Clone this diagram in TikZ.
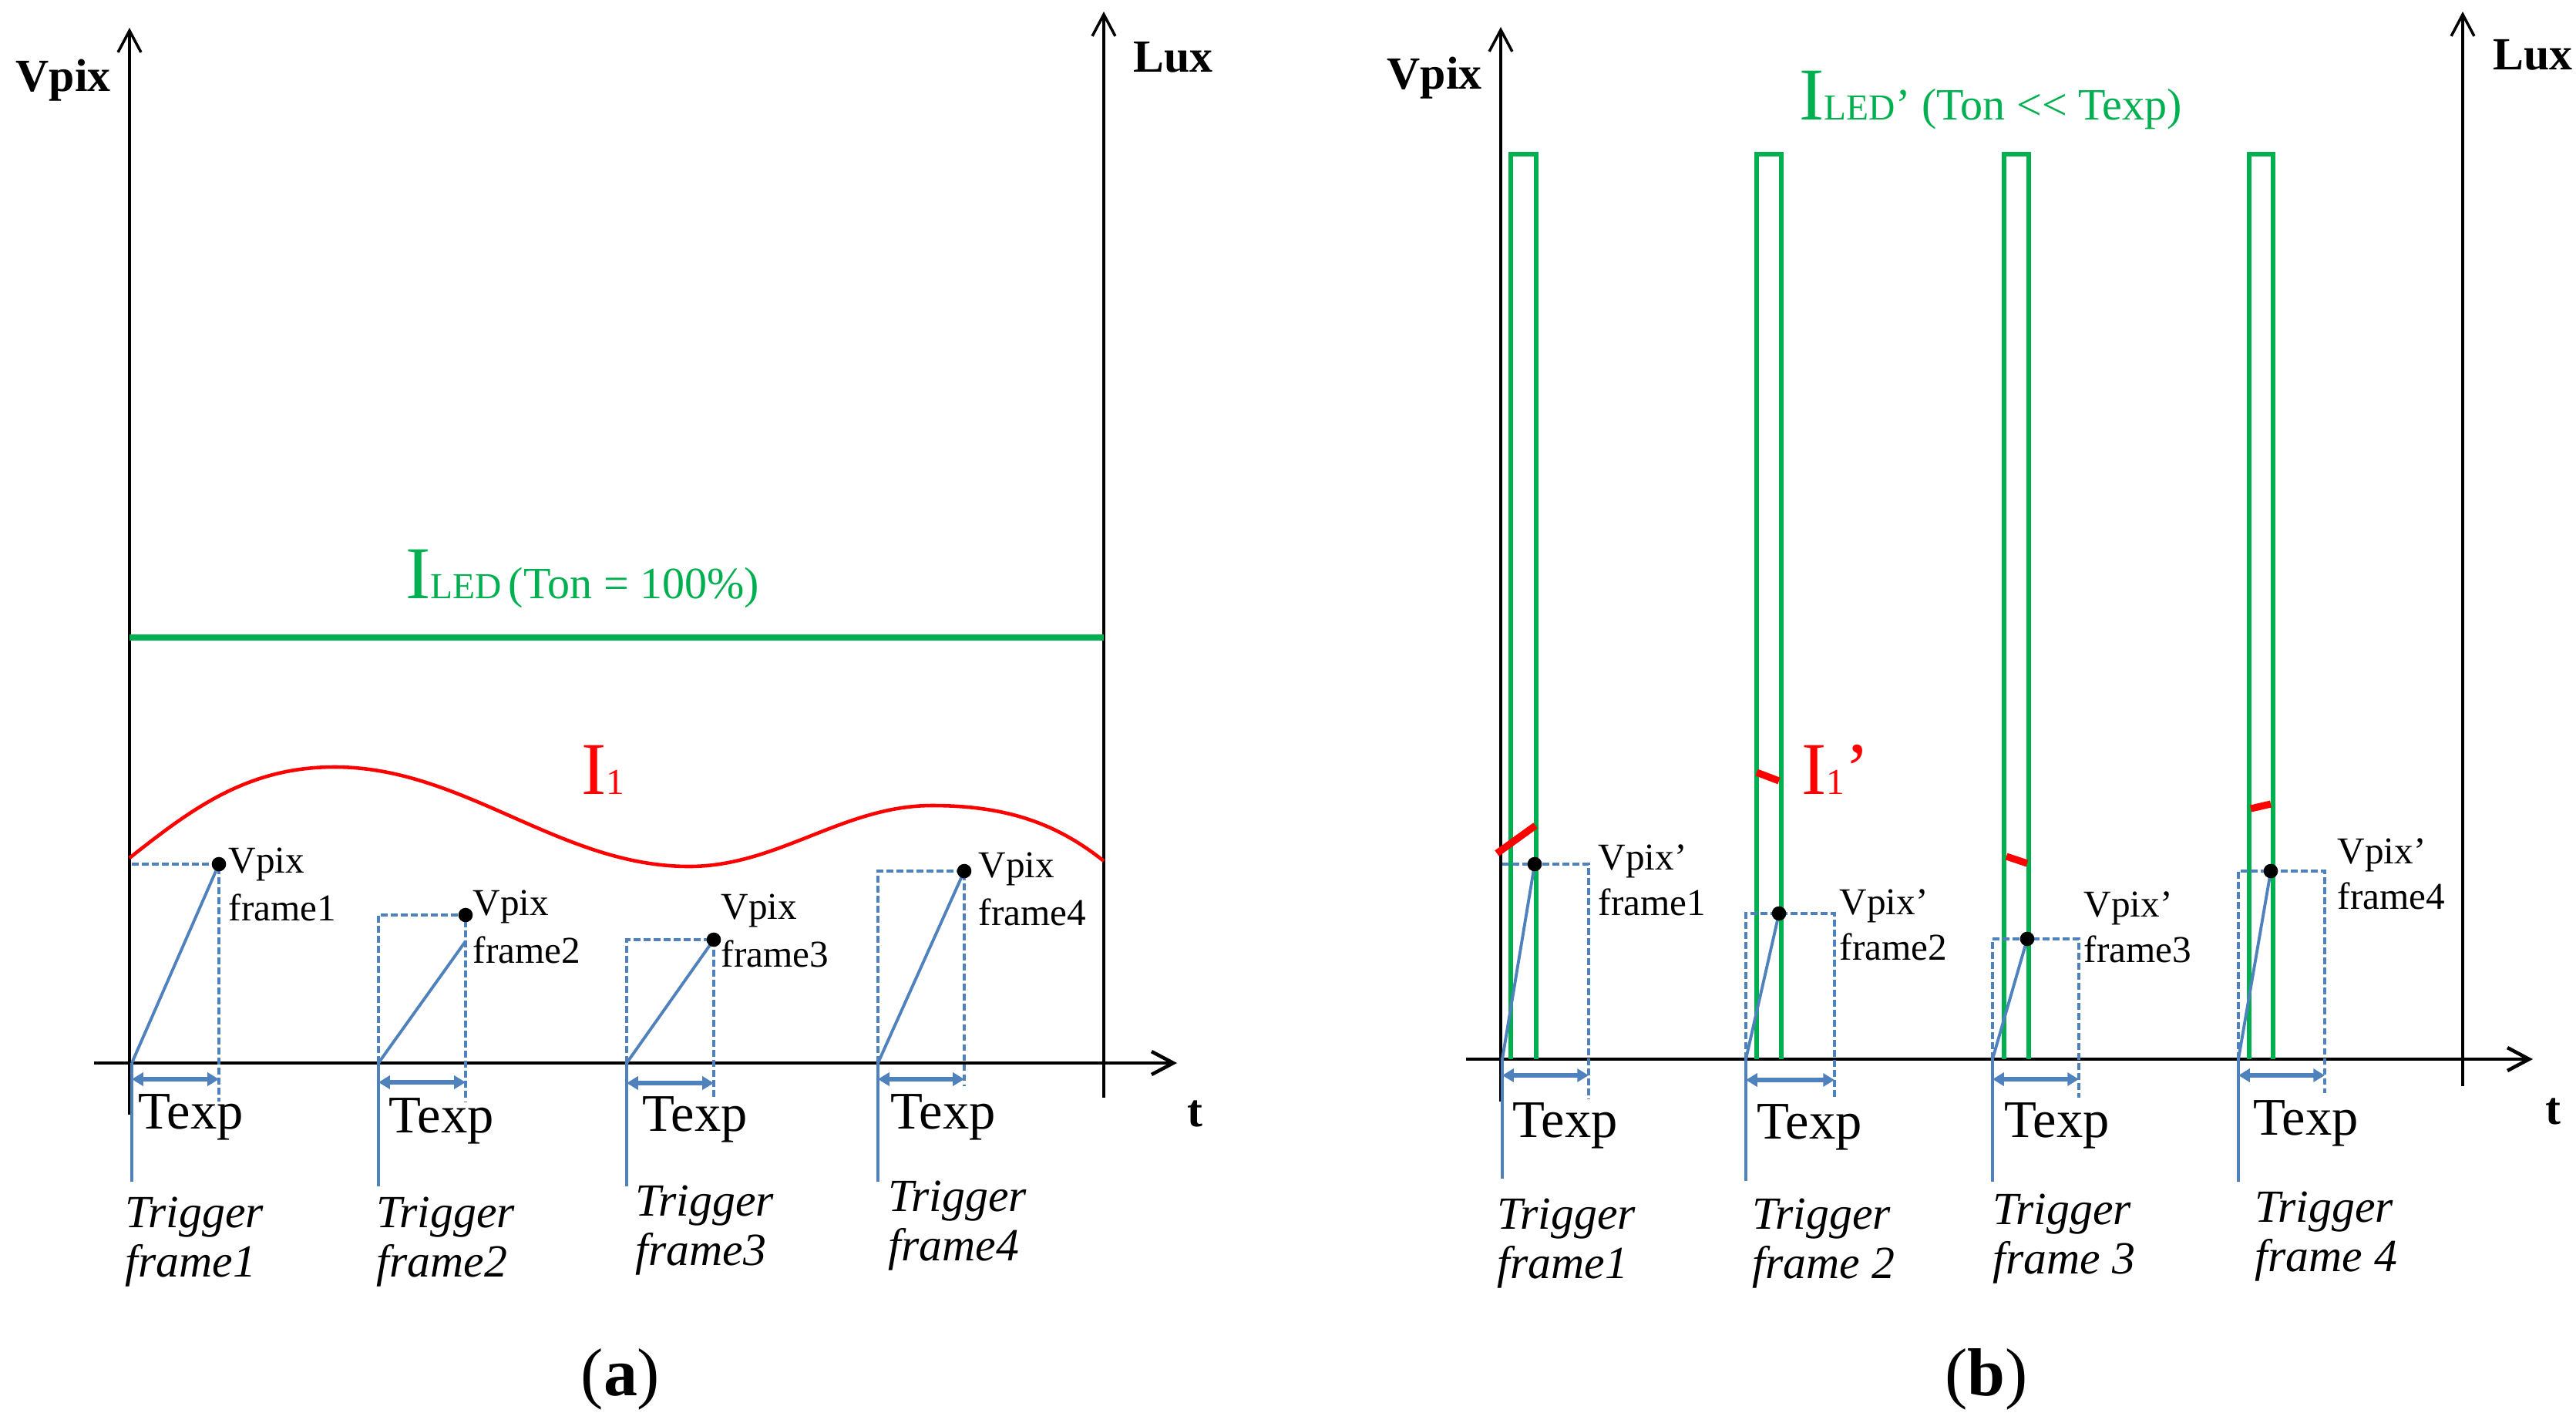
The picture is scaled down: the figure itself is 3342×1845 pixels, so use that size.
\documentclass[tikz,border=0pt]{standalone}
\usepackage{fontspec}
\setmainfont{Liberation Serif}
\usetikzlibrary{arrows.meta}
\definecolor{ledgreen}{RGB}{0,176,80}
\definecolor{pixblue}{RGB}{79,129,189}
\tikzset{
  axis/.style={black, line width=1pt, -{Straight Barb[length=8pt, width=8.5pt]}},
  timeaxis/.style={black, line width=1.3pt, -{Straight Barb[length=8pt, width=8.5pt]}},
  ramp/.style={pixblue, line width=1.1pt},
  guide/.style={pixblue, line width=1pt, dash pattern=on 2.5pt off 1.2pt},
  texparrow/.style={pixblue, line width=1.6pt, {Triangle[length=4.2pt, width=4.8pt]}-{Triangle[length=4.2pt, width=4.8pt]}},
  pulse/.style={ledgreen, line width=1.7pt},
  redseg/.style={red, line width=2.6pt},
  pixdot/.style={circle, fill=black, inner sep=0pt, minimum size=5.3pt},
  axlabel/.style={anchor=base west, inner sep=0pt, font=\fontsize{17}{20}\selectfont\bfseries},
  texplabel/.style={anchor=base west, inner sep=0pt, font=\fontsize{19.5}{23}\selectfont},
  triglabel/.style={anchor=base west, inner sep=0pt, align=left, font=\fontsize{17}{18.2}\selectfont\itshape},
  pixlabel/.style={anchor=base west, inner sep=0pt, align=left, font=\fontsize{14}{17.4}\selectfont},
  pixlabelb/.style={pixlabel, font=\fontsize{14}{16.5}\selectfont},
  biglabel/.style={anchor=base west, inner sep=0pt},
  panel/.style={anchor=base, inner sep=0pt, font=\fontsize{25}{28}\selectfont},
}
\newcommand{\bigI}{{\fontsize{27.5}{30}\selectfont I}}
\newcommand{\bigquote}{{\fontsize{27.5}{30}\selectfont ’}}
\newcommand{\smallsub}[1]{{\fontsize{13.5}{16}\selectfont #1}}
\newcommand{\midtext}[1]{{\fontsize{16.5}{19}\selectfont #1}}

\begin{document}
\begin{tikzpicture}[x=0.01cm, y=-0.01cm]
  \useasboundingbox (0,0) rectangle (3342,1845);
  % (a)
  \coordinate (aVb) at (168,1446);
  \coordinate (aVt) at (168,36);
  \coordinate (aLb) at (1432,1424);
  \coordinate (aLt) at (1432,15);
  \coordinate (aTl) at (122,1379);
  \coordinate (aTr) at (1527,1379);
  \draw[axis] (aVb) -- (aVt);
  \draw[axis] (aLb) -- (aLt);
  \draw[timeaxis] (aTl) -- (aTr);
  \node[axlabel] (aVpix) at (20,118) {Vpix};
  \node[axlabel] (aLux) at (1470,93) {Lux};
  \node[axlabel] (aTime) at (1540,1461) {t};
  \coordinate (aLedL) at (168,827);
  \coordinate (aLedR) at (1432,827);
  \draw[ledgreen, line width=2pt] (aLedL) -- (aLedR);
  \node[biglabel, ledgreen] (aLed) at (526,776) {\bigI\smallsub{LED} \midtext{(Ton = 100\%)}};
  \draw[red, line width=1.3pt] (168,1113) .. controls (248,1050) and (320,995) .. (434,995)
    .. controls (602,995) and (726,1124) .. (894,1124)
    .. controls (1009,1124) and (1094,1045) .. (1209,1045)
    .. controls (1309,1045) and (1373,1070) .. (1432,1117);
  \node[biglabel, red] (aI) at (754,1030) {\bigI\smallsub{1}};

  \coordinate (aT1) at (171,1379);
  \coordinate (aP1) at (284,1121);
  \coordinate (aD1) at (284,1429);
  \coordinate (aB1) at (171,1533);
  \coordinate (aA1) at (171,1400);
  \draw[guide] (aT1 |- aP1) -| (aD1);
  \draw[ramp] (aT1) -- (aP1);
  \draw[ramp] (aT1) -- (aB1);
  \draw[texparrow] (aA1) -- (aA1 -| aD1);
  \node[pixdot] (aDot1) at (aP1) {};
  \node[pixlabel] (aV1) at (296,1194) {Vpix\\frame1};
  \node[texplabel] (aX1) at (179,1464) {Texp};
  \node[triglabel] (aG1) at (162,1656) {Trigger\\frame1};

  \coordinate (aT2) at (491,1379);
  \coordinate (aP2) at (604,1187);
  \coordinate (aR2) at (604,1221);
  \coordinate (aD2) at (604,1429);
  \coordinate (aB2) at (491,1539);
  \coordinate (aA2) at (491,1404);
  \draw[guide] (aT2) |- (aD2 |- aP2) -- (aD2);
  \draw[ramp] (aT2) -- (aR2);
  \draw[ramp] (aT2) -- (aB2);
  \draw[texparrow] (aA2) -- (aA2 -| aD2);
  \node[pixdot] (aDot2) at (aP2) {};
  \node[pixlabel] (aV2) at (613,1249) {Vpix\\frame2};
  \node[texplabel] (aX2) at (504,1469) {Texp};
  \node[triglabel] (aG2) at (488,1656) {Trigger\\frame2};

  \coordinate (aT3) at (813,1379);
  \coordinate (aP3) at (926,1219);
  \coordinate (aD3) at (926,1427);
  \coordinate (aB3) at (813,1539);
  \coordinate (aA3) at (813,1405);
  \draw[guide] (aT3) |- (aD3 |- aP3) -- (aD3);
  \draw[ramp] (aT3) -- (aP3);
  \draw[ramp] (aT3) -- (aB3);
  \draw[texparrow] (aA3) -- (aA3 -| aD3);
  \node[pixdot] (aDot3) at (aP3) {};
  \node[pixlabel] (aV3) at (935,1254) {Vpix\\frame3};
  \node[texplabel] (aX3) at (833,1467) {Texp};
  \node[triglabel] (aG3) at (824,1641) {Trigger\\frame3};

  \coordinate (aT4) at (1139,1379);
  \coordinate (aP4) at (1251,1130);
  \coordinate (aD4) at (1251,1409);
  \coordinate (aB4) at (1139,1533);
  \coordinate (aA4) at (1139,1400);
  \draw[guide] (aT4) |- (aD4 |- aP4) -- (aD4);
  \draw[ramp] (aT4) -- (aP4);
  \draw[ramp] (aT4) -- (aB4);
  \draw[texparrow] (aA4) -- (aA4 -| aD4);
  \node[pixdot] (aDot4) at (aP4) {};
  \node[pixlabel] (aV4) at (1269,1200) {Vpix\\frame4};
  \node[texplabel] (aX4) at (1155,1464) {Texp};
  \node[triglabel] (aG4) at (1152,1635) {Trigger\\frame4};

  \node[panel] (aCap) at (805,1810) {(\textbf{a})};

  % (b)
  \coordinate (bVb) at (1947,1429);
  \coordinate (bVt) at (1947,35);
  \coordinate (bLb) at (3195,1409);
  \coordinate (bLt) at (3195,15);
  \coordinate (bTl) at (1902,1374);
  \coordinate (bTr) at (3286,1374);
  \draw[axis] (bVb) -- (bVt);
  \draw[axis] (bLb) -- (bLt);
  \draw[timeaxis] (bTl) -- (bTr);
  \node[axlabel] (bVpix) at (1799,115) {Vpix};
  \node[axlabel] (bLux) at (3234,90) {Lux};
  \node[axlabel] (bTime) at (3302,1458) {t};
  \node[biglabel, ledgreen] (bLed) at (2334,155) {\bigI\smallsub{LED}\midtext{’ (Ton {<}{<} Texp)}};
  \draw[pulse] (1960,1374) |- (1993,200) -- (1993,1374);
  \draw[pulse] (2279,1374) |- (2311,200) -- (2311,1374);
  \draw[pulse] (2600,1374) |- (2632,200) -- (2632,1374);
  \draw[pulse] (2918,1374) |- (2949,200) -- (2949,1374);
  \draw[redseg] (1942,1107) -- (1992,1071);
  \draw[redseg] (2279,1002) -- (2308,1013);
  \draw[redseg] (2603,1111) -- (2630,1120);
  \draw[redseg] (2920,1049) -- (2946,1043);
  \node[biglabel, red] (bI) at (2337,1030) {\bigI\smallsub{1}\bigquote};

  \coordinate (bT1) at (1949,1374);
  \coordinate (bP1) at (1991,1121);
  \coordinate (bD1) at (2061,1426);
  \coordinate (bB1) at (1949,1529);
  \coordinate (bA1) at (1949,1395);
  \draw[guide] (bT1 |- bP1) -| (bD1);
  \draw[ramp] (bT1) -- (bP1);
  \draw[ramp] (bT1) -- (bB1);
  \draw[texparrow] (bA1) -- (bA1 -| bD1);
  \node[pixdot] (bDot1) at (bP1) {};
  \node[pixlabelb] (bV1) at (2073,1187) {Vpix’\\frame1};
  \node[texplabel] (bX1) at (1962,1475) {Texp};
  \node[triglabel] (bG1) at (1942,1658) {Trigger\\frame1};

  \coordinate (bT2) at (2265,1374);
  \coordinate (bP2) at (2308,1185);
  \coordinate (bD2) at (2380,1426);
  \coordinate (bB2) at (2265,1532);
  \coordinate (bA2) at (2265,1401);
  \draw[guide] (bT2) |- (bD2 |- bP2) -- (bD2);
  \draw[ramp] (bT2) -- (bP2);
  \draw[ramp] (bT2) -- (bB2);
  \draw[texparrow] (bA2) -- (bA2 -| bD2);
  \node[pixdot] (bDot2) at (bP2) {};
  \node[pixlabelb] (bV2) at (2386,1245) {Vpix’\\frame2};
  \node[texplabel] (bX2) at (2279,1477) {Texp};
  \node[triglabel] (bG2) at (2273,1658) {Trigger\\frame 2};

  \coordinate (bT3) at (2585,1374);
  \coordinate (bP3) at (2630,1218);
  \coordinate (bD3) at (2697,1424);
  \coordinate (bB3) at (2585,1533);
  \coordinate (bA3) at (2585,1400);
  \draw[guide] (bT3) |- (bD3 |- bP3) -- (bD3);
  \draw[ramp] (bT3) -- (bP3);
  \draw[ramp] (bT3) -- (bB3);
  \draw[texparrow] (bA3) -- (bA3 -| bD3);
  \node[pixdot] (bDot3) at (bP3) {};
  \node[pixlabelb] (bV3) at (2703,1248) {Vpix’\\frame3};
  \node[texplabel] (bX3) at (2600,1475) {Texp};
  \node[triglabel] (bG3) at (2585,1652) {Trigger\\frame 3};

  \coordinate (bT4) at (2904,1374);
  \coordinate (bP4) at (2946,1130);
  \coordinate (bD4) at (3016,1418);
  \coordinate (bB4) at (2904,1533);
  \coordinate (bA4) at (2904,1395);
  \draw[guide] (bT4) |- (bD4 |- bP4) -- (bD4);
  \draw[ramp] (bT4) -- (bP4);
  \draw[ramp] (bT4) -- (bB4);
  \draw[texparrow] (bA4) -- (bA4 -| bD4);
  \node[pixdot] (bDot4) at (bP4) {};
  \node[pixlabelb] (bV4) at (3032,1179) {Vpix’\\frame4};
  \node[texplabel] (bX4) at (2923,1472) {Texp};
  \node[triglabel] (bG4) at (2925,1649) {Trigger\\frame 4};

  \node[panel] (bCap) at (2577,1810) {(\textbf{b})};
\end{tikzpicture}
\end{document}
